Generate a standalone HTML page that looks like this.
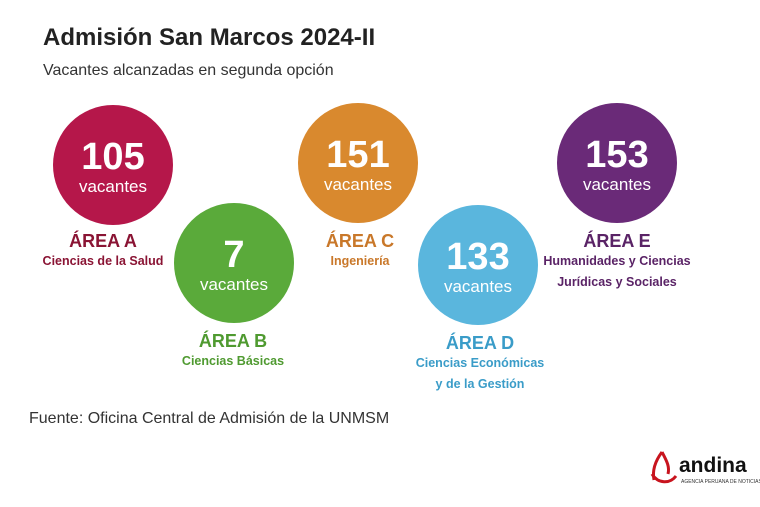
<!DOCTYPE html>
<html><head><meta charset="utf-8"><style>
body{margin:0;width:760px;height:507px;background:#fff;font-family:"Liberation Sans",sans-serif;position:relative;overflow:hidden}
.t{position:absolute;white-space:nowrap}
.c{position:absolute;width:120px;height:120px;border-radius:50%;color:#fff;text-align:center}
.c b{display:block;font-size:38px;line-height:38px;margin-top:33px;font-weight:bold}
.c span{display:block;font-size:17px;margin-top:1px}
.l{position:absolute;text-align:center;font-weight:bold;width:200px}
.l .h{font-size:18px;line-height:20px}
.l .s{font-size:12.5px;line-height:21px}
</style></head><body>
<div class="t" style="left:43px;top:24px;font-size:24px;font-weight:bold;color:#222">Admisión San Marcos 2024-II</div>
<div class="t" style="left:43px;top:62px;font-size:16px;color:#333">Vacantes alcanzadas en segunda opción</div>

<div class="c" style="left:53px;top:105px;background:#b5174a"><b>105</b><span>vacantes</span></div>
<div class="c" style="left:174px;top:203px;background:#5aaa3a"><b>7</b><span>vacantes</span></div>
<div class="c" style="left:298px;top:103px;background:#d9892e"><b>151</b><span>vacantes</span></div>
<div class="c" style="left:418px;top:205px;background:#5ab6dd"><b>133</b><span>vacantes</span></div>
<div class="c" style="left:557px;top:103px;background:#6a2a78"><b>153</b><span>vacantes</span></div>

<div class="l" style="left:3px;top:231px;color:#8a1434"><div class="h">ÁREA A</div><div class="s">Ciencias de la Salud</div></div>
<div class="l" style="left:133px;top:331px;color:#4f9a30"><div class="h">ÁREA B</div><div class="s">Ciencias Básicas</div></div>
<div class="l" style="left:260px;top:231px;color:#c9782a"><div class="h">ÁREA C</div><div class="s">Ingeniería</div></div>
<div class="l" style="left:380px;top:333px;color:#3a9cc8"><div class="h">ÁREA D</div><div class="s">Ciencias Económicas<br>y de la Gestión</div></div>
<div class="l" style="left:517px;top:231px;color:#5a2366"><div class="h">ÁREA E</div><div class="s">Humanidades y Ciencias<br>Jurídicas y Sociales</div></div>

<div class="t" style="left:29px;top:410px;font-size:16px;color:#333">Fuente: Oficina Central de Admisión de la UNMSM</div>

<svg style="position:absolute;left:648px;top:450px" width="30" height="36" viewBox="0 0 30 36"><path d="M14 2 C8 10 4 20 6 30 M14 2 C18 10 22 16 20 24 M4 24 C10 34 22 34 28 26" fill="none" stroke="#c8141e" stroke-width="3"/></svg>
<div class="t" style="left:679px;top:454px;font-size:21px;font-weight:bold;color:#111">andina</div>
<div class="t" style="left:681px;top:479px;font-size:5px;color:#333">AGENCIA PERUANA DE NOTICIAS</div>
</body></html>
